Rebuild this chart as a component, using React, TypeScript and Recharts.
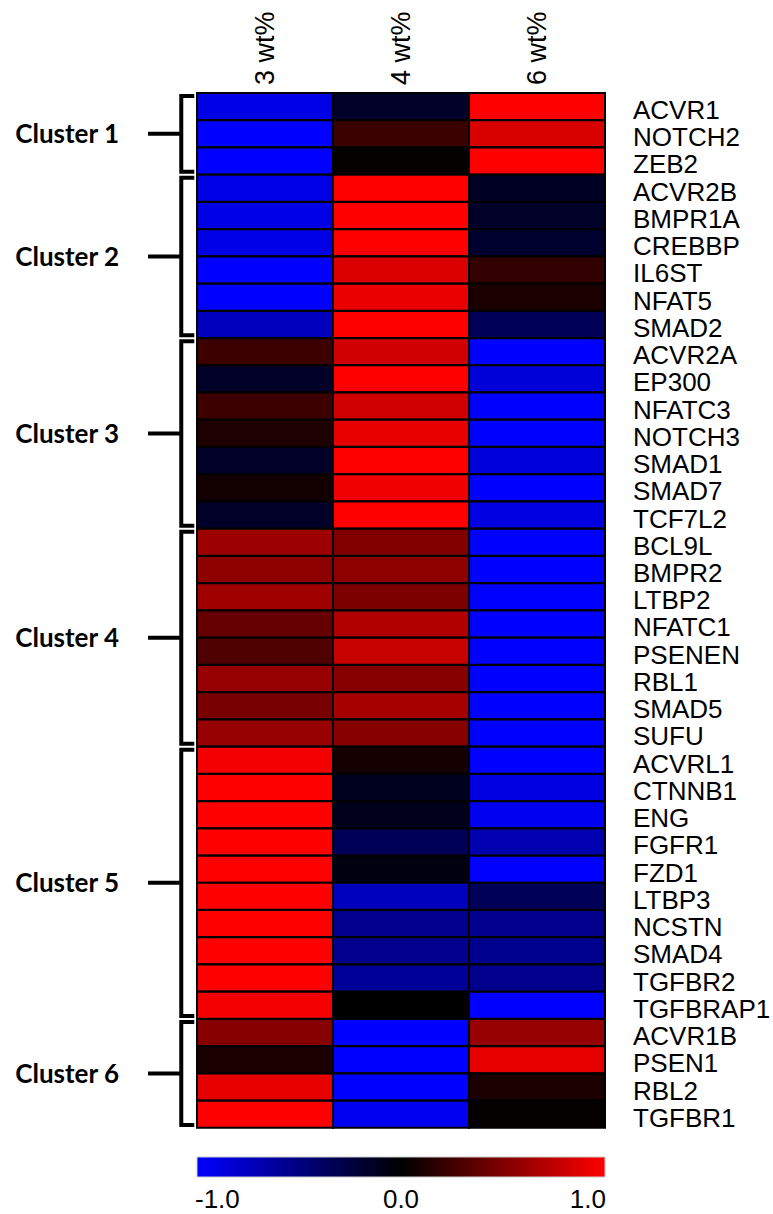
import React from "react";
import { Bar, BarChart, Cell, Label, ReferenceArea, XAxis, YAxis } from "recharts";

const columns = ["3 wt%", "4 wt%", "6 wt%"];

const genes = [
  "ACVR1", "NOTCH2", "ZEB2",
  "ACVR2B", "BMPR1A", "CREBBP", "IL6ST", "NFAT5", "SMAD2",
  "ACVR2A", "EP300", "NFATC3", "NOTCH3", "SMAD1", "SMAD7", "TCF7L2",
  "BCL9L", "BMPR2", "LTBP2", "NFATC1", "PSENEN", "RBL1", "SMAD5", "SUFU",
  "ACVRL1", "CTNNB1", "ENG", "FGFR1", "FZD1", "LTBP3", "NCSTN", "SMAD4", "TGFBR2", "TGFBRAP1",
  "ACVR1B", "PSEN1", "RBL2", "TGFBR1",
];

const wt3 = [
  -0.9, -1.0, -1.0,
  -0.9, -0.9, -0.9, -1.0, -1.0, -0.74,
  0.24, -0.16, 0.24, 0.12, -0.16, 0.07, -0.16,
  0.61, 0.55, 0.63, 0.4, 0.31, 0.59, 0.47, 0.59,
  0.96, 1.0, 1.0, 1.0, 1.0, 1.0, 1.0, 1.0, 1.0, 0.96,
  0.53, 0.1, 0.9, 1.0,
];

const wt4 = [
  -0.16, 0.23, 0.02,
  1.0, 1.0, 1.0, 0.86, 0.92, 1.0,
  0.82, 1.0, 0.82, 0.9, 1.0, 0.94, 1.0,
  0.5, 0.55, 0.49, 0.69, 0.78, 0.53, 0.65, 0.53,
  0.08, -0.12, -0.1, -0.34, -0.06, -0.75, -0.55, -0.55, -0.6, 0.0,
  -1.0, -1.0, -1.0, -0.94,
];

const wt6 = [
  1.0, 0.85, 1.0,
  -0.14, -0.16, -0.18, 0.2, 0.1, -0.35,
  -1.0, -0.85, -1.0, -1.0, -0.86, -1.0, -0.88,
  -1.0, -1.0, -1.0, -1.0, -1.0, -1.0, -1.0, -1.0,
  -1.0, -0.88, -0.94, -0.69, -1.0, -0.35, -0.55, -0.56, -0.55, -1.0,
  0.59, 0.9, 0.1, 0.02,
];

const clusters = [
  { name: "Cluster 1", first: "ACVR1", last: "ZEB2" },
  { name: "Cluster 2", first: "ACVR2B", last: "SMAD2" },
  { name: "Cluster 3", first: "ACVR2A", last: "TCF7L2" },
  { name: "Cluster 4", first: "BCL9L", last: "SUFU" },
  { name: "Cluster 5", first: "ACVRL1", last: "TGFBRAP1" },
  { name: "Cluster 6", first: "ACVR1B", last: "TGFBR1" },
];

const scaleTicks = [-1, 0, 1];

const series = [wt3, wt4, wt6];
const keys = ["c3", "c4", "c6"];

const data = genes.map((gene) => ({ gene, c3: 1, c4: 1, c6: 1 }));
const scaleData = [{ name: "scale", range: [-1, 1] }];

const heatColor = (v: number) => {
  const c = Math.round(Math.min(1, Math.abs(v)) * 255);
  return v < 0 ? `rgb(0,0,${c})` : `rgb(${c},0,0)`;
};

const ARIAL = "'Liberation Sans', Arial, sans-serif";

const GeneTick = (props: any) => (
  <text x={props.x} y={props.y + 3} dy="0.36em" textAnchor="start" fontSize={26} fontFamily={ARIAL} fill="#000">
    {props.payload.value}
  </text>
);

const HeaderTick = (props: any) => {
  const label = columns[Math.floor(props.payload.value)];
  const x = props.x + 9;
  return (
    <text x={x} y={props.y} transform={`rotate(-90, ${x}, ${props.y})`} textAnchor="start" fontSize={27} fontFamily={ARIAL} fill="#000">
      {label}
    </text>
  );
};

const ScaleTick = (props: any) => {
  const v = props.payload.value;
  const anchor = v < 0 ? "start" : v > 0 ? "end" : "middle";
  const dx = v < 0 ? -2 : v > 0 ? 1 : 0;
  return (
    <text x={props.x + dx} y={props.y} dy="0.71em" textAnchor={anchor} fontSize={26} fontFamily={ARIAL} fill="#000">
      {v.toFixed(1)}
    </text>
  );
};

// bracket: dash on the left, vertical bar, small ticks toward the heatmap
const Bracket = (props: any) => {
  const { x, y, width, height } = props;
  const right = x + width;
  const vx = right - 13;
  const top = y + 3;
  const bottom = y + height - 3;
  const mid = y + height / 2;
  return (
    <g fill="none" stroke="#000" strokeWidth={4}>
      <path d={`M${right},${top} H${vx} V${bottom} H${right}`} />
      <path d={`M${x},${mid} H${vx}`} />
    </g>
  );
};

export default function App() {
  return (
    <div style={{ position: "absolute", left: 0, top: 0, width: 773, height: 1214, background: "#fff" }}>
      <BarChart
        width={773}
        height={1214}
        data={data}
        layout="vertical"
        barCategoryGap={0}
        margin={{ top: 0, right: 0, bottom: 86, left: 197 }}
      >
        <XAxis
          type="number"
          orientation="top"
          domain={[0, 3]}
          ticks={[0.5, 1.5, 2.5]}
          height={93}
          axisLine={false}
          tickLine={false}
          tickSize={0}
          tickMargin={8}
          tick={<HeaderTick />}
          interval={0}
        />
        <YAxis
          type="category"
          dataKey="gene"
          orientation="right"
          width={168}
          axisLine={false}
          tickLine={false}
          tickSize={0}
          tickMargin={28}
          tick={<GeneTick />}
          interval={0}
        />
        {keys.map((k, i) => (
          <Bar key={k} dataKey={k} stackId="heat" stroke="#000" strokeWidth={2} isAnimationActive={false}>
            {series[i].map((v, j) => (
              <Cell key={j} fill={heatColor(v)} />
            ))}
          </Bar>
        ))}
        {clusters.map((c) => (
          <ReferenceArea
            key={c.name}
            x1={-0.36}
            x2={-0.02}
            y1={c.first}
            y2={c.last}
            ifOverflow="visible"
            shape={<Bracket />}
          >
            <Label
              value={c.name}
              position="left"
              offset={29}
              fill="#000"
              fontSize={26}
              fontWeight={700}
              fontFamily="Lato, 'Open Sans', sans-serif"
            />
          </ReferenceArea>
        ))}
      </BarChart>
      <div style={{ position: "absolute", left: 0, top: 1150 }}>
        <BarChart
          width={773}
          height={64}
          data={scaleData}
          layout="vertical"
          barCategoryGap={0}
          margin={{ top: 7, right: 168, bottom: 0, left: 197 }}
        >
          <defs>
            <linearGradient id="cbar" x1="0" x2="1" y1="0" y2="0">
              <stop offset="0%" stopColor="#0000ff" />
              <stop offset="50%" stopColor="#000000" />
              <stop offset="100%" stopColor="#ff0000" />
            </linearGradient>
          </defs>
          <XAxis
            type="number"
            domain={[-1, 1]}
            ticks={scaleTicks}
            height={37}
            axisLine={false}
            tickLine={false}
            tickSize={0}
            tickMargin={13}
            tick={<ScaleTick />}
            interval={0}
          />
          <YAxis type="category" dataKey="name" hide />
          <Bar dataKey="range" fill="url(#cbar)" stroke="#ccc" strokeWidth={1} isAnimationActive={false} />
        </BarChart>
      </div>
    </div>
  );
}
